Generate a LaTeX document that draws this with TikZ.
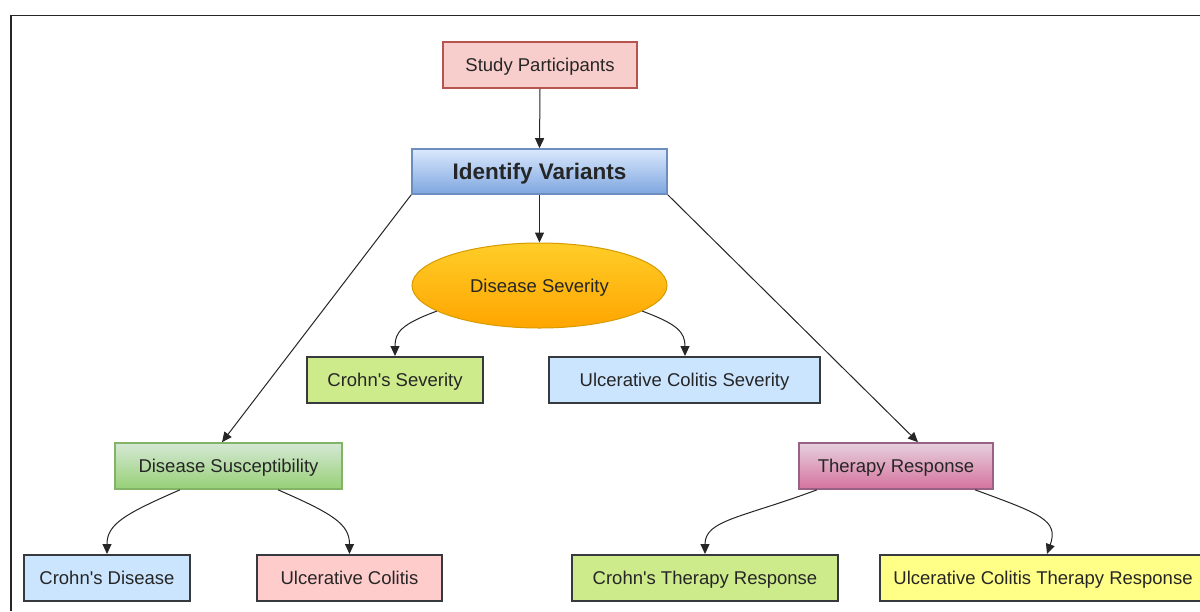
\documentclass[tikz,border=0pt]{standalone}
\usepackage{fontspec}
\setmainfont{Liberation Sans}[Ligatures=TeXOff]
\usetikzlibrary{arrows.meta,shapes.geometric}
\definecolor{spfill}{HTML}{F8CECC}
\definecolor{spdraw}{HTML}{B85450}
\definecolor{ivtop}{HTML}{DAE8FC}
\definecolor{ivbot}{HTML}{7EA6E0}
\definecolor{ivdraw}{HTML}{6C8EBF}
\definecolor{dstop}{HTML}{FFCD28}
\definecolor{dsbot}{HTML}{FFA500}
\definecolor{dsdraw}{HTML}{D79B00}
\definecolor{gtop}{HTML}{D5E8D4}
\definecolor{gbot}{HTML}{97D077}
\definecolor{gdraw}{HTML}{82B366}
\definecolor{ptop}{HTML}{E6D0DE}
\definecolor{pbot}{HTML}{D5739D}
\definecolor{pdraw}{HTML}{996185}
\definecolor{lgreen}{HTML}{CDEB8B}
\definecolor{lblue}{HTML}{CCE5FF}
\definecolor{lred}{HTML}{FFCCCC}
\definecolor{lyellow}{HTML}{FFFF88}
\definecolor{darkb}{HTML}{36393D}
\definecolor{txt}{HTML}{262626}
\tikzset{
  base/.style={rectangle, minimum height=46pt, inner sep=0pt, text height=14pt, text depth=1pt, font=\fontsize{18.5}{22}\selectfont, text=txt},
  leaf/.style={base, draw=darkb, line width=2pt},
  arr/.style={-{Triangle[length=10pt,width=9pt]}, line width=1pt, draw=black!85},
}
\begin{document}
\begin{tikzpicture}[x=1pt,y=-1pt]
\useasboundingbox (0,0) rectangle (1200,611);
\fill[white] (0,0) rectangle (1200,611);
\draw[line width=1.6pt, black!85] (11,611) -- (11,15.5) -- (1200,15.5);

\node[base, draw=spdraw, fill=spfill, line width=1.6pt, minimum width=194pt] (sp) at (540,65) {Study Participants};
\node[base, draw=ivdraw, top color=ivtop, bottom color=ivbot, line width=1.6pt, minimum width=255pt, minimum height=45pt, text height=17pt, text depth=1pt, font=\fontsize{22.5}{26}\selectfont\bfseries] (iv) at (539.5,171.5) {Identify Variants};
\node[ellipse, draw=dsdraw, top color=dstop, bottom color=dsbot, line width=1pt, minimum width=255pt, minimum height=85pt, inner sep=0pt, text height=14pt, text depth=1pt, font=\fontsize{18.5}{22}\selectfont, text=txt] (ds) at (539.5,285.5) {Disease Severity};
\node[leaf, fill=lgreen, minimum width=176pt] (cs) at (395,380) {Crohn's Severity};
\node[leaf, fill=lblue, minimum width=271pt] (ucs) at (684.5,380) {Ulcerative Colitis Severity};
\node[base, draw=gdraw, top color=gtop, bottom color=gbot, line width=1.6pt, minimum width=227pt] (dsus) at (228.5,466) {Disease Susceptibility};
\node[base, draw=pdraw, top color=ptop, bottom color=pbot, line width=1.6pt, minimum width=194pt] (tr) at (896,466) {Therapy Response};
\node[leaf, fill=lblue, minimum width=166pt] (cd) at (107,578) {Crohn's Disease};
\node[leaf, fill=lred, minimum width=185pt] (uc) at (349.5,578) {Ulcerative Colitis};
\node[leaf, fill=lgreen, minimum width=266pt] (ctr) at (705,578) {Crohn's Therapy Response};
\node[leaf, fill=lyellow, minimum width=326pt] (uctr) at (1043,578) {Ulcerative Colitis Therapy Response};

\draw[arr] (sp.south) -- (iv.north);
\draw[arr] (iv.south) -- (ds.north);
\draw[arr] (iv.south west) -- (dsus.north -| 222,0);
\draw[arr] (iv.south east) -- (tr.north -| 918,0);
\draw[arr] (ds.194) .. controls +(-35,13) and +(0,-24) .. (cs.north);
\draw[arr] (ds.346) .. controls +(35,13) and +(0,-24) .. (ucs.north -| 685,0);
\draw[arr] (dsus.south -| 180,0) .. controls +(-55,24) and +(0,-30) .. (cd.north);
\draw[arr] (dsus.south -| 278,0) .. controls +(55,24) and +(0,-30) .. (uc.north);
\draw[arr] (tr.south -| 817,0) .. controls +(-75,28) and +(0,-34) .. (ctr.north);
\draw[arr] (tr.south -| 975,0) .. controls +(65,24) and +(12,-34) .. (uctr.north -| 1047,0);
\end{tikzpicture}
\end{document}
